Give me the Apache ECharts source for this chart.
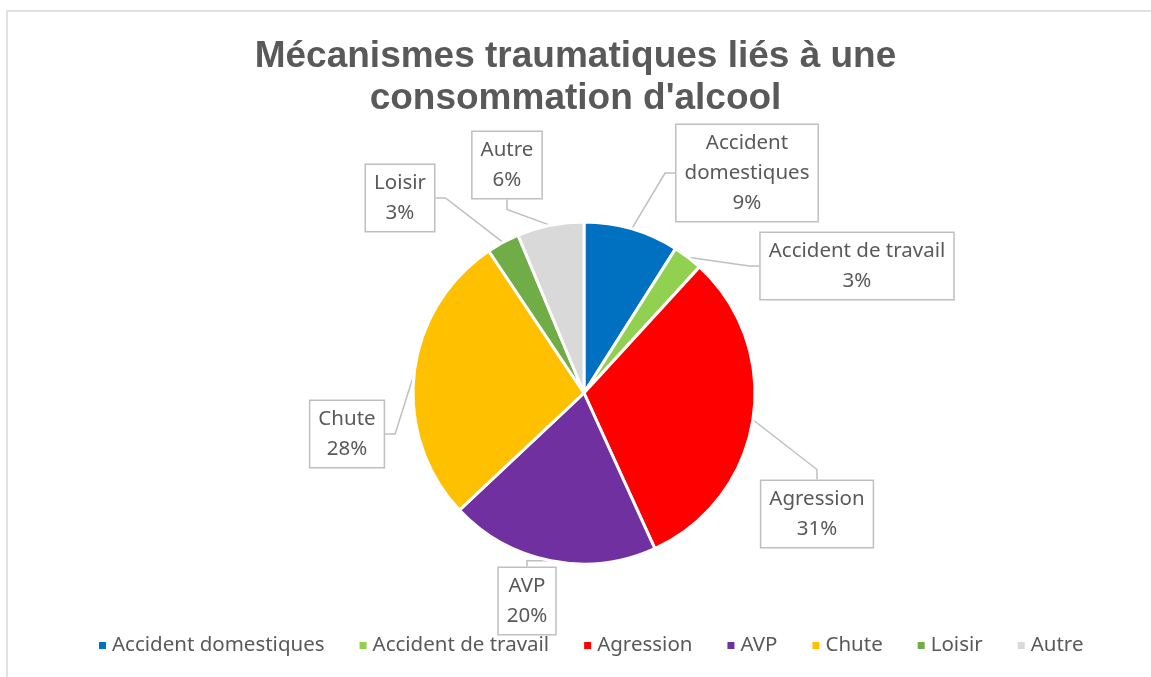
<!DOCTYPE html>
<html>
<head>
<meta charset="utf-8">
<script src="https://cdn.jsdelivr.net/npm/echarts@6/dist/echarts.min.js"></script>
<style>
  html, body { margin: 0; padding: 0; background: #fff; }
  #chart { width: 1151px; height: 677px; }
</style>
</head>
<body>
<div id="chart"></div>
<script>
// categories and values (share in %)
const categories = ['Accident domestiques', 'Accident de travail', 'Agression', 'AVP', 'Chute', 'Loisir', 'Autre'];
const labelNames = ['Accident\ndomestiques', 'Accident de travail', 'Agression', 'AVP', 'Chute', 'Loisir', 'Autre'];
const shares = [9.0, 2.8, 31.4, 19.8, 27.6, 3.1, 6.3];
const colors = ['#0070C0', '#92D050', '#FF0000', '#7030A0', '#FFC000', '#70AD47', '#D9D9D9'];

// where the callout boxes sit (centre of each box)
const labelPos = [
  [747, 173], [857, 266], [817, 514], [527, 601], [347, 434], [400, 198], [507, 165]
];

const chart = echarts.init(document.getElementById('chart'));

const option = {
  backgroundColor: '#fff',
  color: colors,
  title: {
    text: 'Mécanismes traumatiques liés à une\nconsommation d\'alcool',
    left: 'center',
    top: 31,
    padding: [5, 5, 5, 19],
    textStyle: {
      fontFamily: 'Liberation Sans, Arial',
      fontSize: 37,
      fontWeight: 'bold',
      color: '#595959',
      lineHeight: 42
    }
  },
  graphic: [{
    type: 'rect',
    shape: { x: 7, y: 11, width: 1200, height: 700 },
    style: { fill: 'none', stroke: '#d9d9d9', lineWidth: 1.5 },
    silent: true
  }],
  legend: {
    bottom: 16,
    left: 92,
    icon: 'rect',
    itemWidth: 9,
    itemHeight: 9,
    itemGap: 33,
    textStyle: { fontFamily: 'Noto Sans', fontSize: 20.5, color: '#595959' },
    data: categories
  },
  series: [{
    type: 'pie',
    center: [584, 393],
    radius: 171,
    startAngle: 90,
    clockwise: true,
    percentPrecision: 0,
    itemStyle: { borderColor: '#fff', borderWidth: 3 },
    label: {
      show: true,
      position: 'outside',
      formatter: (p) => labelNames[p.dataIndex] + '\n' + p.percent + '%',
      fontFamily: 'Noto Sans',
      fontSize: 20.5,
      lineHeight: 30,
      color: '#595959',
      align: 'center',
      backgroundColor: '#fff',
      borderColor: '#bfbfbf',
      borderWidth: 1.5,
      padding: [3, 8, 3, 8]
    },
    labelLine: {
      show: true,
      length: 10,
      length2: 10,
      lineStyle: { color: '#bfbfbf', width: 1.5 }
    },
    labelLayout: (params) => {
      const pos = labelPos[params.dataIndex];
      return { x: pos[0], y: pos[1], align: 'center', verticalAlign: 'middle' };
    },
    emphasis: { disabled: true },
    data: categories.map((c, i) => ({ name: c, value: shares[i] }))
  }]
};

chart.setOption(option);
</script>
</body>
</html>
